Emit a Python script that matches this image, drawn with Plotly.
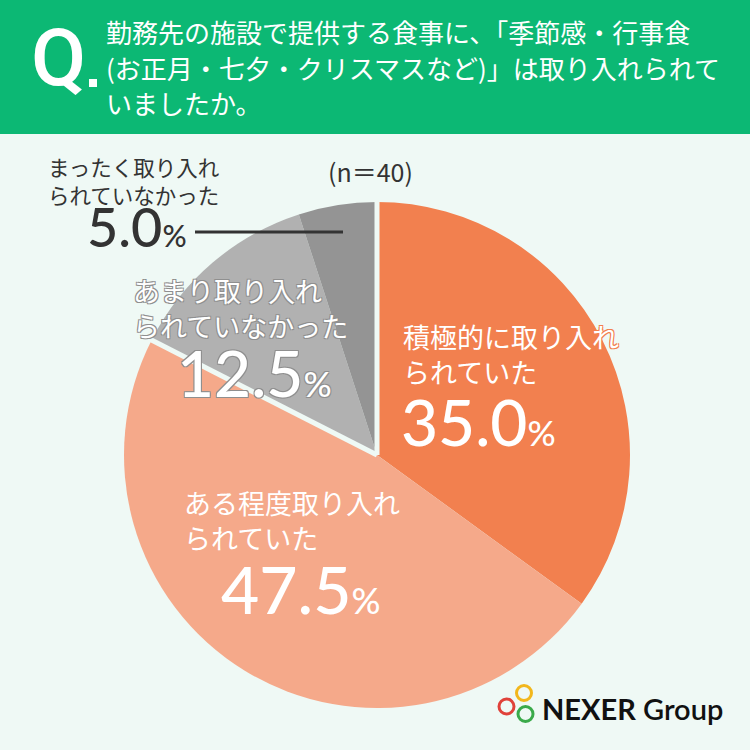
import math
import plotly.graph_objects as go

# データ
labels = ['積極的に取り入れられていた', 'ある程度取り入れられていた',
          'あまり取り入れられていなかった', 'まったく取り入れられていなかった']
label_lines = [['積極的に取り入れ', 'られていた'],
               ['ある程度取り入れ', 'られていた'],
               ['あまり取り入れ', 'られていなかった'],
               ['まったく取り入れ', 'られていなかった']]
values = [35.0, 47.5, 12.5, 5.0]
colors = ['#f2804f', '#f5a98a', '#b1b1b1', '#949494']
n_total = 40

question = ['勤務先の施設で提供する食事に、「季節感・行事食',
            '(お正月・七夕・クリスマスなど)」は取り入れられて',
            'いましたか。']

W = 750
BG = '#eff9f5'
GREEN = '#0cb874'
DARK = '#333333'
JP = 'Noto Sans CJK JP'
NUM = 'Lato'


def px(x):
    return x / W


def py(y):
    return 1 - y / W


# 円の中心と半径 (px)
cx, cy, r = 377, 455, 253

fig = go.Figure()

fig.add_trace(go.Pie(
    labels=labels,
    values=values,
    sort=False,
    direction='clockwise',
    rotation=0,
    textinfo='none',
    hoverinfo='skip',
    showlegend=False,
    marker=dict(colors=colors, line=dict(width=0)),
    domain=dict(x=[px(cx - r), px(cx + r)], y=[py(cy + r), py(cy - r)])
))

shapes = []

# ヘッダー
shapes.append(dict(type='rect', xref='paper', yref='paper',
                   x0=0, x1=1, y0=py(134), y1=1,
                   fillcolor=GREEN, line=dict(width=0), layer='below'))

# 区切り線 (先頭と「あまり」の手前)
total = sum(values)
for i in [0, 2]:
    frac = sum(values[:i]) / total
    ang = 2 * math.pi * frac
    shapes.append(dict(type='line', xref='paper', yref='paper',
                       x0=px(cx), y0=py(cy),
                       x1=px(cx + (r + 4) * math.sin(ang)),
                       y1=py(cy - (r + 4) * math.cos(ang)),
                       line=dict(color=BG, width=5), layer='above'))

# 引き出し線
shapes.append(dict(type='line', xref='paper', yref='paper',
                   x0=px(195), x1=px(343), y0=py(232), y1=py(232),
                   line=dict(color=DARK, width=3), layer='above'))

# ロゴの輪
for x, y, c in [(506.5, 706.5, '#e0423a'), (524, 693, '#f2b71c'), (525.5, 714, '#3aaa4a')]:
    shapes.append(dict(type='circle', xref='paper', yref='paper',
                       x0=px(x - 7.5), x1=px(x + 7.5), y0=py(y + 7.5), y1=py(y - 7.5),
                       line=dict(color=c, width=3), fillcolor='rgba(0,0,0,0)', layer='above'))

annotations = []


def note(text, x, y, size, color, family=JP, anchor='left', shadow=None, weight=None):
    font = dict(family=family, size=size, color=color)
    if shadow:
        font['shadow'] = shadow
    if weight:
        font['weight'] = weight
    annotations.append(dict(text=text, x=px(x), y=py(y), xref='paper', yref='paper',
                            xanchor=anchor, yanchor='middle', showarrow=False,
                            align='left', font=font))


def outline(c):
    return f'1px 1px 0 {c}, -1px -1px 0 {c}, 1px -1px 0 {c}, -1px 1px 0 {c}'


# Q.
note('Q', 29, 58, 80, 'white', family='Roboto', weight=500)
shapes.append(dict(type='rect', xref='paper', yref='paper',
                   x0=px(89), x1=px(97), y0=py(87), y1=py(79),
                   fillcolor='white', line=dict(width=0), layer='above'))

for i, line in enumerate(question):
    note(line, 104, 32 + i * 35.5, 26, 'white')

note(f'(n＝{n_total})', 326, 171, 25, DARK)


def pct(v, size):
    return f'{v:.1f}<span style="font-size:{int(size * 0.56)}px">%</span>'


# ラベル
lab_pos = [(401, 354), (182, 520), (131, 308), (46, 180)]
num_pos = [(399, 421), (219, 588), (175, 372), (85, 227)]
lab_col = ['white', 'white', 'white', DARK]
shadows = [outline('#f2804f'), outline('#f5a98a'), outline('#8f8f8f'), None]
lab_size = [27, 27, 27, 21.5]
num_size = [64, 66, 64, 54]

for i in range(len(values)):
    note('<br>'.join(label_lines[i]), lab_pos[i][0], lab_pos[i][1], lab_size[i],
         lab_col[i], shadow=shadows[i])
    note(pct(values[i], num_size[i]), num_pos[i][0], num_pos[i][1], num_size[i],
         lab_col[i], family=NUM, shadow=shadows[i], weight=500)

# ロゴ
note('<b>NEXER</b> Group', 540, 708, 29, '#111111', family=NUM, weight=600)

fig.update_layout(
    width=750,
    height=750,
    margin=dict(l=0, r=0, t=0, b=0),
    paper_bgcolor=BG,
    plot_bgcolor=BG,
    shapes=shapes,
    annotations=annotations
)

fig.write_html('out.html', config={'displayModeBar': False},
               post_script="document.body.style.margin='0';")
